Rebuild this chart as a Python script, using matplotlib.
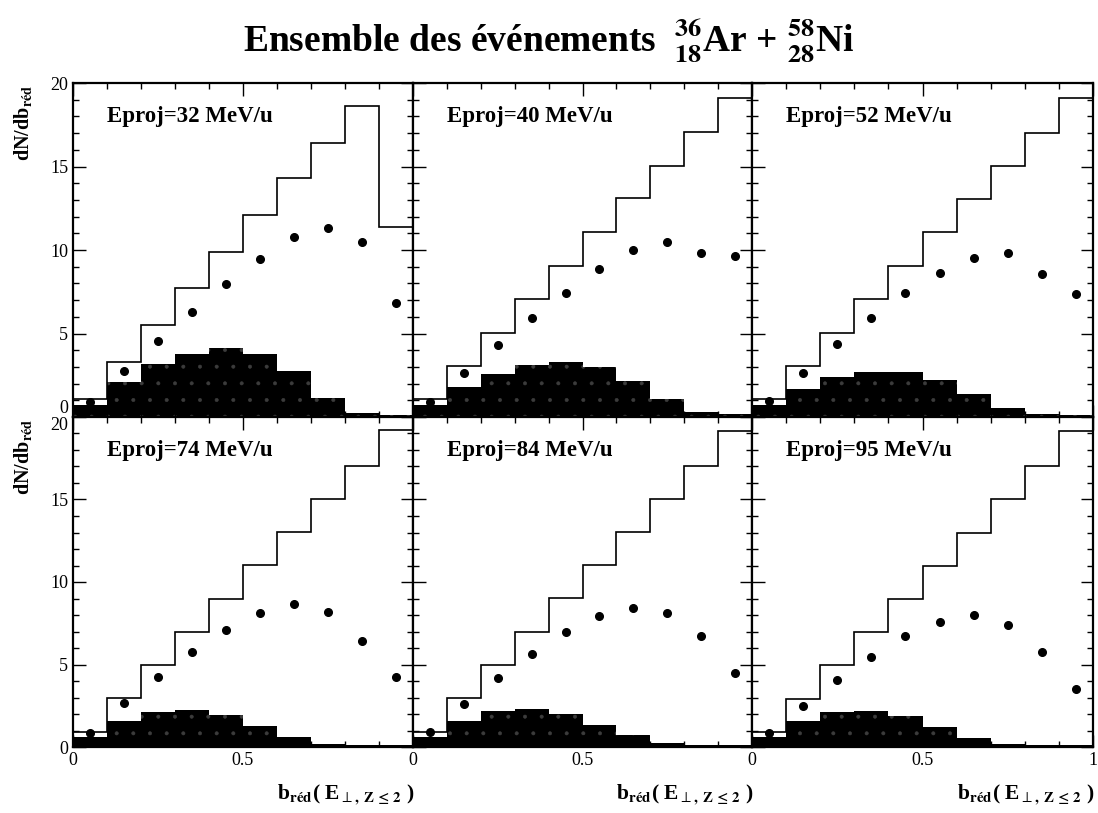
import numpy as np
import matplotlib
import matplotlib.pyplot as plt
from matplotlib.ticker import MultipleLocator

plt.rcParams['font.family'] = ['Liberation Serif', 'DejaVu Serif']
plt.rcParams['mathtext.fontset'] = 'stix'
plt.rcParams['mathtext.default'] = 'bf'
plt.rcParams['hatch.linewidth'] = 0.4

edges = np.linspace(0, 1, 11)
centers = 0.5 * (edges[:-1] + edges[1:])

energies = [32, 40, 52, 74, 84, 95]  # MeV/u

# all events (open histogram)
all_32 = [1.1, 3.3, 5.5, 7.7, 9.9, 12.1, 14.3, 16.4, 18.6, 11.4]
all_40 = [1.05, 3.05, 5.05, 7.05, 9.05, 11.1, 13.1, 15.05, 17.05, 19.1]
all_52 = [1.05, 3.05, 5.05, 7.05, 9.05, 11.05, 13.05, 15.05, 17.0, 19.1]
all_74 = [0.9, 2.95, 4.95, 7.0, 9.0, 11.05, 13.05, 15.0, 17.0, 19.2]
all_84 = [0.9, 2.95, 5.0, 7.0, 9.05, 11.05, 13.05, 15.05, 17.05, 19.15]
all_95 = [0.9, 2.9, 4.95, 6.95, 8.95, 11.0, 13.0, 15.0, 17.05, 19.15]

# selected events (points)
pts_32 = [0.9, 2.75, 4.55, 6.3, 7.95, 9.45, 10.8, 11.3, 10.5, 6.8]
pts_40 = [0.9, 2.65, 4.3, 5.9, 7.4, 8.85, 10.0, 10.5, 9.8, 9.65]
pts_52 = [0.95, 2.65, 4.35, 5.95, 7.4, 8.65, 9.55, 9.8, 8.55, 7.35]
pts_74 = [0.85, 2.65, 4.25, 5.75, 7.1, 8.1, 8.65, 8.2, 6.45, 4.25]
pts_84 = [0.9, 2.6, 4.2, 5.65, 6.95, 7.95, 8.45, 8.15, 6.7, 4.5]
pts_95 = [0.85, 2.5, 4.05, 5.45, 6.7, 7.6, 8.0, 7.4, 5.75, 3.5]

# filled histogram
fill_32 = [0.7, 2.1, 3.15, 3.8, 4.15, 3.8, 2.75, 1.15, 0.25, 0.1]
fill_40 = [0.7, 1.8, 2.6, 3.1, 3.3, 3.0, 2.15, 1.05, 0.3, 0.15]
fill_52 = [0.7, 1.7, 2.4, 2.7, 2.7, 2.2, 1.35, 0.55, 0.15, 0.1]
fill_74 = [0.6, 1.55, 2.15, 2.25, 1.95, 1.3, 0.6, 0.2, 0.15, 0.1]
fill_84 = [0.6, 1.6, 2.2, 2.3, 2.0, 1.35, 0.7, 0.25, 0.15, 0.1]
fill_95 = [0.6, 1.55, 2.15, 2.2, 1.9, 1.2, 0.55, 0.2, 0.15, 0.1]

all_h = [all_32, all_40, all_52, all_74, all_84, all_95]
pts = [pts_32, pts_40, pts_52, pts_74, pts_84, pts_95]
fills = [fill_32, fill_40, fill_52, fill_74, fill_84, fill_95]

W, H = 1098, 813
fig = plt.figure(figsize=(W / 100, H / 100), dpi=100)

x_left = [73, 413, 752]
x_right = [413, 752, 1093]
y_top = [83, 417]
y_bot = [417, 747]

for k in range(6):
    r, c = divmod(k, 3)
    ax = fig.add_axes([x_left[c] / W, 1 - y_bot[r] / H,
                       (x_right[c] - x_left[c]) / W, (y_bot[r] - y_top[r]) / H])
    ax.bar(edges[:-1], fills[k], width=0.1, align='edge', color='black',
           edgecolor='#3c3c3c', hatch='.', linewidth=0)
    ax.stairs(all_h[k], edges, color='black', linewidth=1.2)
    ax.plot(centers, pts[k], 'o', color='black', markersize=5.5)

    ax.set_xlim(0, 1)
    ax.set_ylim(0, 20)
    ax.xaxis.set_major_locator(MultipleLocator(0.5))
    ax.xaxis.set_minor_locator(MultipleLocator(0.1))
    ax.yaxis.set_major_locator(MultipleLocator(5))
    ax.yaxis.set_minor_locator(MultipleLocator(1))
    ax.tick_params(which='both', direction='in', top=True, right=True,
                   width=1.0, labelsize=13)
    ax.tick_params(which='major', length=9)
    ax.tick_params(which='minor', length=4)
    for s in ax.spines.values():
        s.set_linewidth(1.6)

    if c == 0:
        ax.set_yticks([0, 5, 10, 15, 20], ['0', '5', '10', '15', '20'])
    else:
        ax.set_yticklabels([])
    if r == 1:
        if c == 2:
            ax.set_xticks([0, 0.5, 1], ['0', '0.5', '1'])
        else:
            ax.set_xticks([0, 0.5, 1], ['0', '0.5', ''])
        ax.text(1.005, -0.145, r'b$_{\mathbf{réd}}$( E$_{\mathrm{\bot},\ Z\,\leq\,2}$ )',
                transform=ax.transAxes, ha='right', va='center',
                fontsize=15.5, fontweight='bold')
    else:
        ax.set_xticklabels([])

    if c == 0:
        ticks = ax.yaxis.get_major_ticks()
        if r == 0:
            ticks[0].label1.set_va('bottom')
        else:
            ticks[-1].label1.set_va('top')

    ax.text(0.1, 0.9, f'Eproj={energies[k]} MeV/u', transform=ax.transAxes,
            ha='left', va='center', fontsize=16.5, fontweight='bold')

for r in range(2):
    fig.text(23 / W, 1 - (y_top[r] + 2) / H, r'dN/db$_{\mathbf{réd}}$',
             rotation=90, ha='center', va='top', fontsize=14.5, fontweight='bold')

fig.text(0.5, 1 - 40 / H,
         r'Ensemble des événements  ${}^{36}_{18}$Ar + ${}^{58}_{28}$Ni',
         ha='center', va='center', fontsize=27, fontweight='bold')

fig.savefig('out.png', dpi=100)
plt.close()
